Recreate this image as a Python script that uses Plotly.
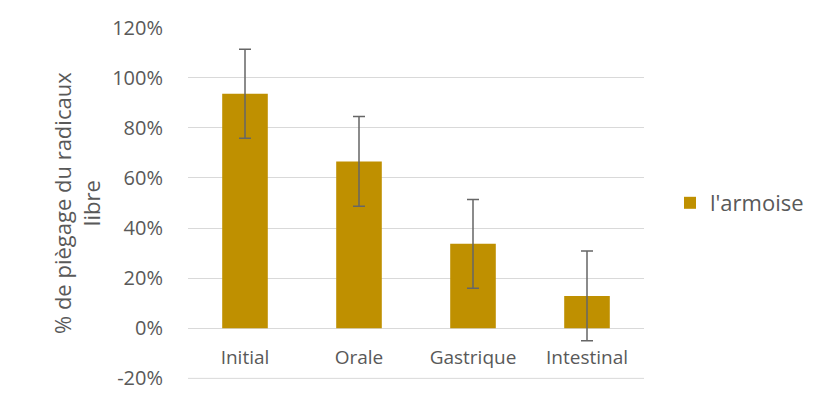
import plotly.graph_objects as go

categories = ["Initial", "Orale", "Gastrique", "Intestinal"]
values = [93.6, 66.6, 33.7, 12.9]
errors = [17.8, 17.9, 17.7, 17.9]
series_name = "l'armoise"
y_ticks = [-20, 0, 20, 40, 60, 80, 100, 120]
y_ticklabels = [f"{v}%" for v in y_ticks]

FONT = "Open Sans"
TXT = "#595959"
GRID = "#d9d9d9"
Y_LO, Y_HI = -20.25, 120.25

fig = go.Figure()
fig.add_trace(go.Bar(
    x=categories, y=values, name=series_name,
    marker=dict(color="#BF9000", line=dict(width=0)),
    error_y=dict(type="data", array=errors, visible=True,
                 color="#666666", thickness=1.5, width=6),
    showlegend=True,
))

fig.update_layout(
    width=814, height=399,
    margin=dict(l=180, r=178, t=19, b=28),
    paper_bgcolor="white", plot_bgcolor="white",
    bargap=0.6,
    font=dict(family=FONT, size=20, color=TXT),
    xaxis=dict(anchor="free", position=(0 - Y_LO) / (Y_HI - Y_LO),
               showgrid=False, showline=False,
               ticks="", tickfont=dict(size=19, color=TXT), ticklabelstandoff=16),
    yaxis=dict(range=[Y_LO, Y_HI], tickvals=y_ticks, ticktext=y_ticklabels,
               showgrid=True, gridcolor=GRID, gridwidth=1,
               zeroline=True, zerolinecolor=GRID, zerolinewidth=1,
               showline=False, ticks="", ticklabelstandoff=24,
               tickfont=dict(size=20, color=TXT), automargin=False),
    legend=dict(x=1.057, y=0.5, xanchor="left", yanchor="middle",
                font=dict(size=22, color=TXT), bgcolor="rgba(0,0,0,0)"),
    shapes=[dict(type="line", xref="paper", yref="y", x0=0, x1=1,
                 y0=y_ticks[0], y1=y_ticks[0], layer="below",
                 line=dict(color=GRID, width=1))],
    annotations=[dict(text="% de piègage du radicaux<br>libre",
                      xref="paper", yref="paper", x=(68 - 180) / 456, y=0.5,
                      xanchor="center", yanchor="middle", textangle=-90,
                      showarrow=False, font=dict(size=22, color=TXT))],
)

fig.write_html("out.html")
